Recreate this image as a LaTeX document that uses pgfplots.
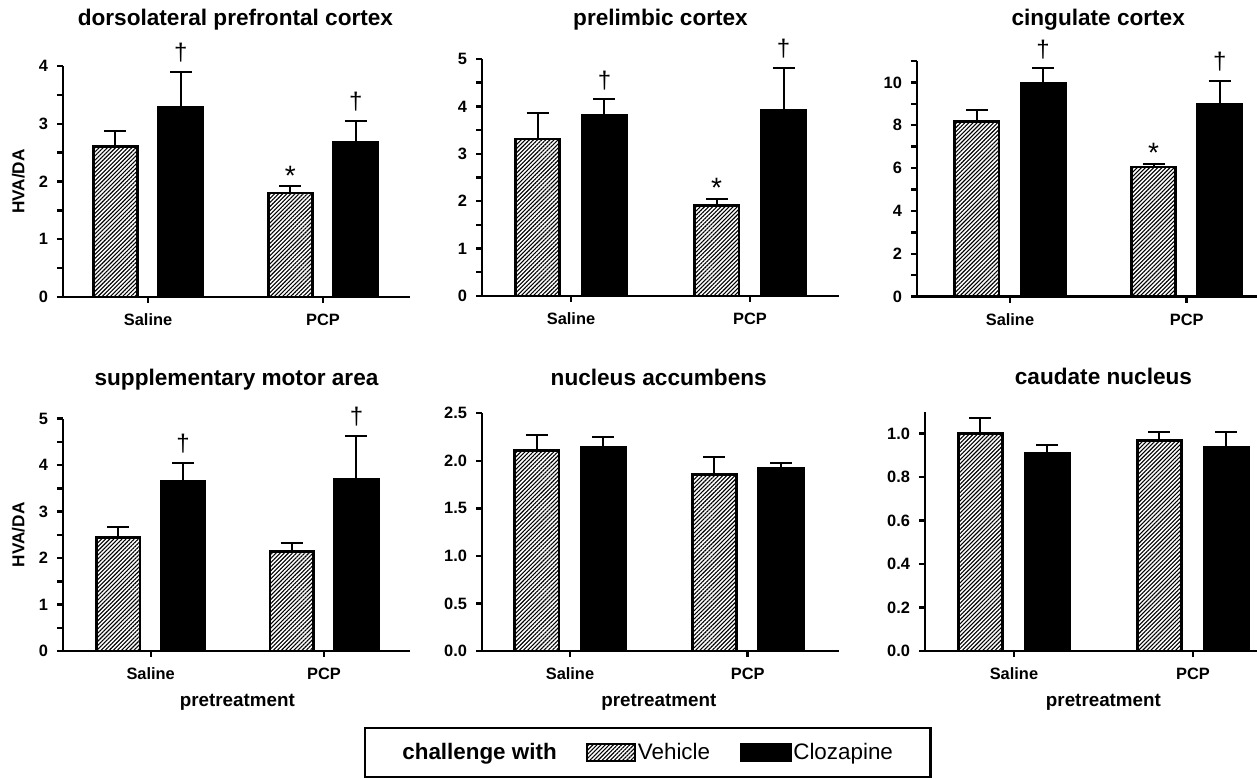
\documentclass[border=0pt]{standalone}
\usepackage{fontspec}
\setmainfont{Liberation Sans}
\usepackage{pgfplots}
\pgfplotsset{compat=1.18}
\usetikzlibrary{patterns.meta}

\newcommand{\ticksize}{\bfseries\fontsize{8.2}{9}\selectfont}
\newcommand{\titlesize}{\bfseries\fontsize{11.3}{13}\selectfont}
\newcommand{\labsize}{\bfseries\fontsize{8.6}{10}\selectfont}
\newcommand{\legsize}{\fontsize{11.2}{13}\selectfont}

\pgfplotsset{
  panel/.style={
    scale only axis, anchor=south west,
    axis x line*=bottom, axis y line*=left,
    axis line style={line width=1.4pt},
    tick align=outside, major tick length=3pt, minor tick length=3pt,
    every tick/.style={black, line width=1.2pt},
    xtick={0,1}, xticklabels={Saline,PCP},
    ymin=0, clip=false,
    ybar, bar width=0.25,
    tick label style={font=\ticksize},
    /pgf/number format/assume math mode=true,
    xticklabel style={yshift=-2pt},
    yticklabel style={xshift=-1pt},
    title style={font=\titlesize, anchor=base},
    ylabel style={font=\labsize},
    xlabel style={font=\labsize\fontsize{9.4}{11}\selectfont},
  },
  errs/.style={error bars/y dir=plus, error bars/y explicit,
    error bars/error bar style={line width=1pt, black},
    error bars/error mark options={rotate=90, mark size=5.5pt, line width=1pt, black}},
  veh/.style={bar shift=-0.187, draw=black, line width=1.4pt,
    pattern={Lines[angle=45,distance=1.45pt,line width=0.55pt]}, errs},
  cloz/.style={bar shift=0.187, draw=black, fill=black, line width=1.4pt, errs},
  ann/.style={sharp plot, bar shift=0pt, draw=none, mark=none, nodes near coords,
    point meta=explicit symbolic,
    nodes near coords style={anchor=base, font=\fontsize{12}{14}\selectfont, yshift=5.5pt}},
  star/.style={sharp plot, bar shift=0pt, draw=none, mark=none, nodes near coords,
    point meta=explicit symbolic,
    nodes near coords style={anchor=base, font=\fontsize{14}{16}\selectfont, yshift=0.5pt}},
}

\begin{document}
\begin{tikzpicture}
\useasboundingbox (0,0) rectangle (628.5pt,390pt);

% dorsolateral prefrontal cortex
\begin{axis}[panel, at={(31.5pt,241.5pt)}, width=173.5pt, height=115.5pt,
  xmin=-0.486, xmax=1.497, ymax=4, ytick={0,1,2,3,4}, minor ytick={0.5,1.5,2.5,3.5},
  title={dorsolateral prefrontal cortex}, title style={at={(0.497,1)}, yshift=14pt},
  ylabel={HVA/DA}, ylabel style={at={(axis description cs:-0.09,0.5)}, anchor=south, rotate=0}]
\addplot[veh] coordinates {(0,2.60) +- (0,0.27) (1,1.80) +- (0,0.12)};
\addplot[cloz] coordinates {(0,3.29) +- (0,0.61) (1,2.68) +- (0,0.37)};
\addplot[ann] coordinates {(0.187,3.90) [†] (1.187,3.05) [†]};
\addplot[star] coordinates {(0.813,1.92) [*]};
\end{axis}

% prelimbic cortex
\begin{axis}[panel, at={(241pt,242pt)}, width=178.5pt, height=118.5pt,
  xmin=-0.497, xmax=1.497, ymax=5, ytick={0,1,2,3,4,5}, minor ytick={0.5,1.5,2.5,3.5,4.5},
  title={prelimbic cortex}, title style={at={(0.5,1)}, yshift=10.5pt}]
\addplot[veh] coordinates {(0,3.31) +- (0,0.54) (1,1.91) +- (0,0.14)};
\addplot[cloz] coordinates {(0,3.80) +- (0,0.35) (1,3.92) +- (0,0.90)};
\addplot[ann] coordinates {(0.187,4.15) [†] (1.187,4.82) [†]};
\addplot[star] coordinates {(0.813,2.05) [*]};
\end{axis}

% cingulate cortex
\begin{axis}[panel, at={(458.5pt,241.65pt)}, width=170pt, height=117.85pt,
  xmin=-0.526, xmax=1.398, ymax=11, ytick={0,2,4,6,8,10}, minor ytick={1,3,5,7,9,11},
  title={cingulate cortex}, title style={at={(0.533,1)}, yshift=11.5pt}]
\addplot[veh] coordinates {(0,8.16) +- (0,0.56) (1,6.05) +- (0,0.15)};
\addplot[cloz] coordinates {(0,9.97) +- (0,0.70) (1,8.99) +- (0,1.09)};
\addplot[ann] coordinates {(0.187,10.67) [†] (1.187,10.08) [†]};
\addplot[star] coordinates {(0.813,6.20) [*]};
\end{axis}

% supplementary motor area
\begin{axis}[panel, at={(31.5pt,64.5pt)}, width=173.5pt, height=116.15pt,
  xmin=-0.506, xmax=1.496, ymax=5, ytick={0,1,2,3,4,5}, minor ytick={0.5,1.5,2.5,3.5,4.5},
  title={supplementary motor area}, title style={at={(0.5,1)}, yshift=10.4pt},
  ylabel={HVA/DA}, ylabel style={at={(axis description cs:-0.09,0.5)}, anchor=south, rotate=0},
  xlabel={pretreatment}, xlabel style={at={(axis cs:0.5,0)}, anchor=north, yshift=-18pt}]
\addplot[veh] coordinates {(0,2.44) +- (0,0.23) (1,2.14) +- (0,0.18)};
\addplot[cloz] coordinates {(0,3.64) +- (0,0.41) (1,3.69) +- (0,0.94)};
\addplot[ann] coordinates {(0.187,4.05) [†] (1.187,4.63) [†]};
\end{axis}

% nucleus accumbens
\begin{axis}[panel, at={(241pt,64.5pt)}, width=178.5pt, height=118.85pt,
  xmin=-0.495, xmax=1.514, ymax=2.5, ytick={0,0.5,1,1.5,2,2.5},
  yticklabel style={/pgf/number format/.cd, fixed, fixed zerofill, precision=1},
  title={nucleus accumbens}, title style={at={(0.495,1)}, yshift=7.7pt},
  xlabel={pretreatment}, xlabel style={at={(axis cs:0.5,0)}, anchor=north, yshift=-18pt},
  legend style={at={(axis description cs:0.464,-0.427)}, anchor=center, draw=black,
    line width=1.2pt, legend columns=3, font=\legsize, inner xsep=18pt, inner ysep=6.5pt,
    nodes={inner sep=0.8pt, text depth=0.15em},
    /tikz/every even column/.append style={column sep=14pt}},
  legend cell align=left]
\addplot[veh, forget plot] coordinates {(0,2.11) +- (0,0.16) (1,1.86) +- (0,0.18)};
\addplot[cloz, forget plot] coordinates {(0,2.14) +- (0,0.11) (1,1.92) +- (0,0.06)};
\addlegendimage{empty legend}
\addlegendentry{\textbf{challenge with}}
\addlegendimage{legend image code/.code={\draw[draw=black, line width=1pt,
  pattern={Lines[angle=45,distance=1.45pt,line width=0.55pt]}] (0pt,-4.25pt) rectangle (24pt,4.25pt);}}
\addlegendentry{Vehicle}
\addlegendimage{legend image code/.code={\draw[draw=black, fill=black, line width=1pt]
  (0pt,-4.25pt) rectangle (25pt,4.25pt);}}
\addlegendentry{Clozapine}
\end{axis}

% caudate nucleus
\begin{axis}[panel, at={(462.5pt,64.5pt)}, width=166pt, height=119.65pt,
  xmin=-0.497, xmax=1.358, ymax=1.1, ytick={0,0.2,0.4,0.6,0.8,1.0},
  yticklabel style={/pgf/number format/.cd, fixed, fixed zerofill, precision=1},
  title={caudate nucleus}, title style={at={(0.5375,1)}, yshift=7.4pt},
  xlabel={pretreatment}, xlabel style={at={(axis cs:0.5,0)}, anchor=north, yshift=-18pt}]
\addplot[veh] coordinates {(0,1.00) +- (0,0.07) (1,0.969) +- (0,0.038)};
\addplot[cloz] coordinates {(0,0.908) +- (0,0.039) (1,0.938) +- (0,0.069)};
\end{axis}
\end{tikzpicture}
\end{document}
